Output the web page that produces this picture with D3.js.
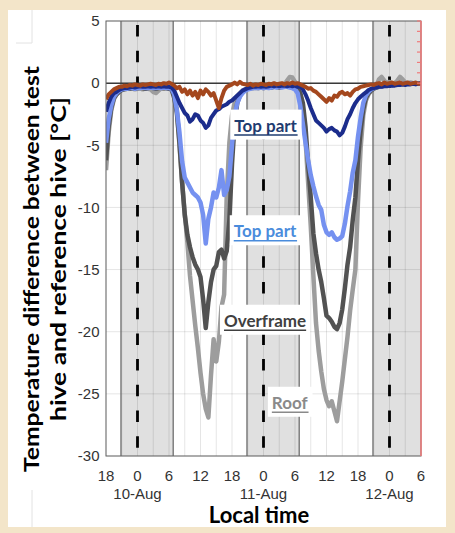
<!DOCTYPE html>
<html><head><meta charset="utf-8">
<script src="https://cdn.jsdelivr.net/npm/d3@7"></script>
<style>body{margin:0;background:#f3e5c9;} svg{display:block}</style>
</head><body><svg id="c" width="455" height="533"></svg>
<script>
// ---- DATA ----
// hours since 9-Aug 18:00 (local time), half-hour steps
const hours = d3.range(0, 60.01, 0.5);
const roof = [
 -7.0,-4.0,-2.2,-1.3,-0.9,-0.7,-0.5,-0.45,-0.4,-0.45,
 -0.4,-0.5,-0.45,-0.4,-0.5,-0.4,-0.45,-0.5,-0.7,-0.8,
 -0.6,-0.4,-0.45,-0.4,-0.45,-0.5,-1.0,-2.2,-5.0,-8.0,
 -10.5,-12.8,-15.5,-17.5,-19.5,-21.3,-23.3,-25.0,-26.2,-26.9,
 -23.5,-20.6,-22.4,-20.8,-18.0,-17.0,-9.0,-4.8,-2.6,-1.6,
 -1.1,-0.8,-0.6,-0.5,-0.4,-0.4,-0.35,-0.4,-0.3,-0.35,
 -0.3,-0.35,-0.3,-0.3,-0.25,-0.3,-0.2,-0.25,-0.1,0.2,
 0.5,0.45,0.1,-0.3,-0.9,-2.0,-4.5,-8.0,-11.5,-15.5,
 -19.3,-21.5,-23.2,-24.6,-25.5,-26.0,-25.6,-26.4,-27.2,-25.6,
 -24.0,-22.2,-20.4,-18.3,-16.6,-15.0,-9.5,-5.2,-2.6,-1.4,
 -0.9,-0.6,-0.4,-0.2,0.3,0.5,0.2,0,0.1,-0.05,
 0,0.2,0.5,0.3,0.05,0,0.05,0,-0.05,0,
 0];
const overframe = [
 -6.2,-3.5,-2.0,-1.2,-0.9,-0.7,-0.55,-0.5,-0.45,-0.45,
 -0.4,-0.45,-0.4,-0.35,-0.4,-0.45,-0.4,-0.35,-0.4,-0.45,
 -0.4,-0.35,-0.4,-0.4,-0.45,-0.5,-1.2,-2.4,-4.8,-8.0,
 -10.6,-12.2,-13.2,-14.0,-14.6,-15.0,-15.6,-17.4,-19.7,-17.6,
 -16.0,-15.0,-14.7,-13.6,-13.4,-14.1,-13.5,-11.0,-6.5,-3.2,
 -1.6,-1.0,-0.7,-0.55,-0.45,-0.4,-0.4,-0.35,-0.4,-0.35,
 -0.4,-0.35,-0.3,-0.35,-0.3,-0.3,-0.35,-0.3,-0.25,-0.3,
 -0.2,-0.1,-0.3,-0.5,-0.8,-1.6,-3.5,-6.5,-9.2,-12.1,
 -13.7,-15.0,-16.0,-17.3,-18.7,-18.9,-19.2,-19.6,-19.8,-19.3,
 -18.2,-16.5,-14.6,-13.2,-11.0,-9.2,-6.2,-3.8,-2.1,-1.2,
 -0.8,-0.6,-0.45,-0.35,-0.3,-0.25,-0.2,-0.2,-0.15,-0.15,
 -0.1,-0.1,-0.05,-0.1,-0.05,0,-0.05,0,0,0,
 0];
const topLight = [
 -4.8,-2.9,-1.8,-1.1,-0.8,-0.6,-0.5,-0.45,-0.45,-0.4,
 -0.4,-0.45,-0.4,-0.4,-0.35,-0.4,-0.4,-0.35,-0.4,-0.4,
 -0.35,-0.4,-0.35,-0.4,-0.4,-0.45,-0.9,-2.2,-4.0,-6.3,
 -7.6,-8.0,-8.4,-8.8,-9.0,-9.2,-9.6,-10.6,-12.9,-10.9,
 -10.0,-8.8,-9.2,-8.4,-7.0,-9.0,-8.6,-7.5,-5.0,-2.6,
 -1.6,-1.1,-0.8,-0.6,-0.5,-0.45,-0.4,-0.4,-0.4,-0.35,
 -0.4,-0.35,-0.4,-0.35,-0.3,-0.35,-0.3,-0.35,-0.3,-0.3,
 -0.35,-0.4,-0.5,-0.8,-1.8,-3.3,-4.8,-6.2,-7.4,-8.3,
 -9.1,-9.8,-10.2,-11.4,-12.0,-12.2,-12.0,-12.4,-12.6,-12.5,
 -12.3,-11.3,-9.9,-8.7,-7.2,-6.2,-4.3,-2.8,-1.6,-1.0,
 -0.7,-0.5,-0.4,-0.3,-0.25,-0.25,-0.2,-0.2,-0.15,-0.15,
 -0.1,-0.1,-0.1,-0.05,-0.05,-0.05,0,-0.05,0,0,
 0];
const topDark = [
 -2.3,-1.6,-1.1,-0.8,-0.7,-0.55,-0.45,-0.4,-0.4,-0.35,
 -0.3,-0.35,-0.3,-0.25,-0.3,-0.3,-0.25,-0.3,-0.25,-0.3,
 -0.25,-0.3,-0.25,-0.3,-0.3,-0.35,-0.6,-1.1,-1.6,-2.0,
 -2.4,-2.6,-3.1,-2.9,-2.5,-2.6,-3.0,-3.2,-3.6,-3.4,
 -2.8,-2.5,-2.2,-2.1,-1.9,-1.8,-1.7,-1.5,-1.4,-1.2,
 -1.0,-0.8,-0.6,-0.5,-0.4,-0.35,-0.3,-0.3,-0.25,-0.3,
 -0.25,-0.3,-0.25,-0.2,-0.25,-0.2,-0.25,-0.2,-0.2,-0.25,
 -0.2,-0.25,-0.2,-0.3,-0.3,-0.5,-0.9,-1.4,-2.0,-2.5,
 -3.0,-3.2,-3.4,-3.6,-3.9,-3.7,-3.6,-3.8,-3.9,-4.2,
 -4.0,-3.5,-2.9,-2.5,-2.0,-1.6,-1.3,-1.1,-0.9,-0.75,
 -0.55,-0.45,-0.4,-0.35,-0.3,-0.3,-0.25,-0.25,-0.2,-0.2,
 -0.2,-0.15,-0.15,-0.1,-0.15,-0.1,-0.1,-0.05,-0.1,-0.05,
 0];
const brown = [
 -1.3,-0.9,-0.7,-0.5,-0.4,-0.3,-0.3,-0.2,-0.25,-0.15,
 -0.2,-0.1,-0.15,-0.2,-0.1,-0.15,-0.1,-0.05,-0.1,-0.15,
 -0.05,-0.1,0,-0.05,0.05,-0.05,-0.2,-0.4,-0.3,-0.7,
 -0.5,-0.9,-0.6,-1.0,-0.7,-1.2,-0.6,-0.9,-0.5,-0.7,
 -1.0,-0.8,-1.4,-2.0,-1.2,-0.6,-0.3,-0.2,-0.1,0.05,
 -0.1,0.1,-0.05,-0.1,-0.15,-0.05,-0.2,-0.1,-0.15,-0.05,
 -0.1,-0.15,-0.05,-0.1,0,-0.1,-0.05,0,-0.1,0,
 -0.05,0.05,-0.05,0,-0.1,-0.2,-0.3,-0.45,-0.4,-0.6,
 -0.7,-0.9,-1.1,-1.3,-1.5,-1.2,-1.4,-1.0,-1.1,-0.8,
 -0.7,-0.9,-0.8,-1.0,-0.7,-0.5,-0.45,-0.3,-0.25,-0.2,
 -0.15,-0.1,-0.15,-0.05,0,-0.1,0.05,-0.05,0,0.05,
 -0.05,0,0.05,-0.05,0,0.05,-0.05,0,0.05,-0.05,
 0];
const nightStart = [2.85, 26.85, 50.85];
const nightEnd = [12.8, 36.8, 60];
const midnights = [6, 30, 54];
const dateLabels = ["10-Aug", "11-Aug", "12-Aug"];
const yTicks = [5, 0, -5, -10, -15, -20, -25, -30];
const xTicks = [0, 6, 12, 18, 24, 30, 36, 42, 48, 54, 60];
const xTickLabels = ["18","0","6","12","18","0","6","12","18","0","6"];
const rightTicks = [0, 1, 2, 3, 4, 5, 6];

// ---- DRAWING ----
const svg = d3.select('#c');
svg.append('rect').attr('width',455).attr('height',533).attr('fill','#f3e5c9');
svg.append('rect').attr('x',8).attr('y',10).attr('width',438).attr('height',517).attr('fill','#fff');
svg.append('path').attr('d','M32,10V43H16M32,490V527').attr('stroke','#e2e2e2').attr('fill','none');

const x = d3.scaleLinear().domain([0,60]).range([106,421]);
const y = d3.scaleLinear().domain([-30,5]).range([456,21]);
const yR = d3.scaleLinear().domain([0,6]).range([y(0), y(5)]);
const X0 = x(0), X1 = x(60), Y0 = y(5), Y1 = y(-30);

svg.append('clipPath').attr('id','clip').append('rect')
  .attr('x',X0).attr('y',Y0).attr('width',X1-X0).attr('height',Y1-Y0);

const g = svg.append('g');
g.selectAll('rect.band').data(d3.zip(nightStart,nightEnd)).join('rect')
  .attr('x',d=>x(d[0])).attr('width',d=>x(d[1])-x(d[0]))
  .attr('y',Y0).attr('height',Y1-Y0).attr('fill','#e0e0e0');

g.selectAll('line.vg').data(d3.range(0,61,3)).join('line')
  .attr('x1',d=>x(d)).attr('x2',d=>x(d)).attr('y1',Y0).attr('y2',Y1)
  .attr('stroke','rgba(0,0,0,0.1)').attr('stroke-width',1);
g.selectAll('line.hg').data(yTicks).join('line')
  .attr('x1',X0).attr('x2',X1).attr('y1',d=>y(d)).attr('y2',d=>y(d))
  .attr('stroke','rgba(0,0,0,0.1)').attr('stroke-width',1);

g.selectAll('line.be').data(nightStart.concat(nightEnd.slice(0,2))).join('line')
  .attr('x1',d=>x(d)).attr('x2',d=>x(d)).attr('y1',Y0).attr('y2',Y1)
  .attr('stroke','#6e6e6e').attr('stroke-width',1.3);

g.selectAll('line.mid').data(midnights).join('line')
  .attr('x1',d=>x(d)).attr('x2',d=>x(d)).attr('y1',Y0+4).attr('y2',Y1)
  .attr('stroke','#000').attr('stroke-width',2.8).attr('stroke-dasharray','11.5,14.2');

g.append('line').attr('x1',X0).attr('x2',X1).attr('y1',y(0)).attr('y2',y(0))
  .attr('stroke','#3a3a3a').attr('stroke-width',1.5);

const line = d3.line().x((d,i)=>x(hours[i])).y(d=>y(d));
const series = [
  {v: roof, c:'#9d9d9d', w:4.5},
  {v: overframe, c:'#525252', w:4.5},
  {v: topLight, c:'#7591f0', w:4.5},
  {v: topDark, c:'#1b2c8c', w:4},
  {v: brown, c:'#a4471d', w:4}
];
const lg = g.append('g').attr('clip-path','url(#clip)');
series.forEach(s => {
  lg.append('path').attr('d', line(s.v)).attr('fill','none')
    .attr('stroke', s.c).attr('stroke-width', s.w).attr('stroke-linejoin','round');
});

g.append('rect').attr('x',X0).attr('y',Y0).attr('width',X1-X0).attr('height',Y1-Y0)
  .attr('fill','none').attr('stroke','#666').attr('stroke-width',1);
g.append('line').attr('x1',X1).attr('x2',X1).attr('y1',Y0).attr('y2',Y1)
  .attr('stroke','#f07a7a').attr('stroke-width',1.5);
g.selectAll('line.rt').data(rightTicks).join('line')
  .attr('x1',X1-4).attr('x2',X1).attr('y1',d=>yR(d)).attr('y2',d=>yR(d))
  .attr('stroke','#f07a7a').attr('stroke-width',1.2);

// tick labels
const tickFont = {'font-family':'"Liberation Sans", Arial, sans-serif','font-size':'15px','fill':'#333'};
function applyFont(sel, f){ Object.entries(f).forEach(([k,v])=>sel.attr(k,v)); return sel; }
applyFont(g.selectAll('text.yt').data(yTicks).join('text')
  .attr('x',X0-6.5).attr('y',d=>y(d)+5.3).attr('text-anchor','end').text(d=>d), tickFont);
applyFont(g.selectAll('text.xt').data(xTicks).join('text')
  .attr('x',d=>x(d)).attr('y',481).attr('text-anchor','middle').text((d,i)=>xTickLabels[i]), tickFont);
applyFont(g.selectAll('text.dt').data(midnights).join('text')
  .attr('x',d=>x(d)).attr('y',498.5).attr('text-anchor','middle').text((d,i)=>dateLabels[i]), tickFont);

// axis titles
const titleFont = 'Lato, Carlito, Calibri, sans-serif';
svg.append('text').attr('transform','translate(38.5,269) rotate(-90)')
  .attr('text-anchor','middle').attr('font-family',titleFont).attr('font-weight','bold')
  .attr('font-size','21px').attr('fill','#000')
  .attr('textLength',406).attr('lengthAdjust','spacingAndGlyphs')
  .text('Temperature difference between test');
svg.append('text').attr('transform','translate(66,259) rotate(-90)')
  .attr('text-anchor','middle').attr('font-family',titleFont).attr('font-weight','bold')
  .attr('font-size','21px').attr('fill','#000')
  .attr('textLength',324).attr('lengthAdjust','spacingAndGlyphs')
  .text('hive and reference hive [°C]');
svg.append('text').attr('x',259).attr('y',523)
  .attr('text-anchor','middle').attr('font-family',titleFont).attr('font-weight','bold')
  .attr('font-size','22px').attr('fill','#000').text('Local time');

// series labels
const labels = [
  {t:'Top part', c:'#1f3c70', at:[30.4,-3.9]},
  {t:'Top part', c:'#4a8cdc', at:[30.3,-12.4]},
  {t:'Overframe', c:'#404040', at:[30.3,-19.6]},
  {t:'Roof', c:'#8a8a8a', at:[35.0,-26.2]}
];
labels.forEach(L => {
  const lgp = svg.append('g');
  const bg = lgp.append('rect').attr('fill','#fff');
  const tx = lgp.append('text').attr('x',x(L.at[0])).attr('y',y(L.at[1]))
    .attr('text-anchor','middle').attr('font-family',titleFont).attr('font-weight','bold')
    .attr('font-size','17px').attr('fill',L.c).text(L.t);
  const b = tx.node().getBBox();
  bg.attr('x',b.x-4).attr('y',b.y-5).attr('width',b.width+8).attr('height',b.height+9);
  lgp.append('line').attr('x1',b.x).attr('x2',b.x+b.width)
    .attr('y1',y(L.at[1])+3.5).attr('y2',y(L.at[1])+3.5)
    .attr('stroke',L.c).attr('stroke-width',1.5);
});
</script></body></html>
